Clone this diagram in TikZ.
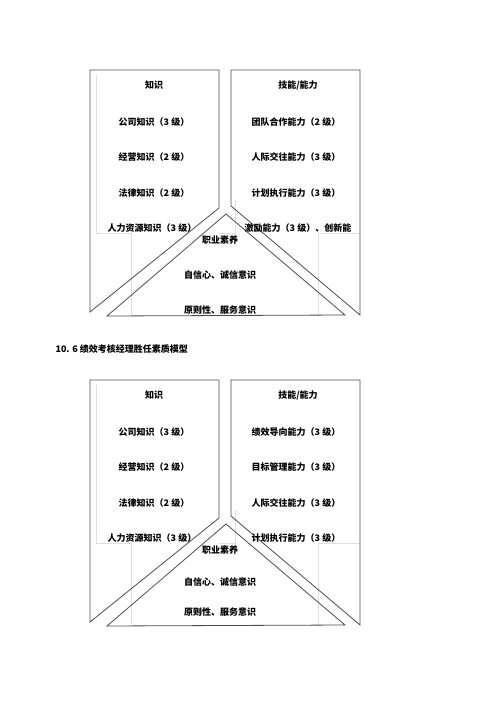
\documentclass[tikz,border=0pt]{standalone}
\usepackage{fontspec}
\setmainfont{Noto Sans CJK SC}

\begin{document}
\begin{tikzpicture}[x=1pt,y=-1pt,font=\fontsize{9}{11}\selectfont\bfseries,
    frame/.style={draw=black!70,line width=0.8pt,line join=miter},
    ghost/.style={draw=gray!25,line width=0.5pt}]
        \useasboundingbox(0,0)rectangle(500,707);
        % two competence models, same frame
        \foreach \dy in {0,310}{
            \draw[ghost](96,75+\dy)--(96,233+\dy)--(131,233+\dy)--(131,316+\dy);
            \draw[ghost](235,200+\dy)--(235,233+\dy)--(219,233+\dy);
            \draw[ghost](318,316+\dy)--(318,233+\dy)--(359,233+\dy);
            \draw[frame](90,70+\dy)--(219,70+\dy)--(219,208+\dy)--(90,312+\dy)--cycle;
            \draw[frame](231,70+\dy)--(360,70+\dy)--(360,315+\dy)--(231,206+\dy)--cycle;
            \draw[frame](226,214+\dy)--(345,315+\dy)--(107,316+\dy)--cycle;
        }

        \node(ka)at(154,85){知识};
        \node(kb)at(154,122){公司知识（3 级）};
        \node(kc)at(154,157){经营知识（2 级）};
        \node(kd)at(154,193){法律知识（2 级）};
        \node(ke)at(152,228){人力资源知识（3 级）};
        \node(sa)at(298,85){技能/能力};
        \node(sb)at(296,122){团队合作能力（2 级）};
        \node(sc)at(296,157){人际交往能力（3 级）};
        \node(sd)at(296,193){计划执行能力（3 级）};
        \node(se)at(298,228){激励能力（3 级）、创新能};
        \node(pa)at(220,240){职业素养};
        \node(pb)at(220,275){自信心、诚信意识};
        \node(pc)at(220,310){原则性、服务意识};

        \node[anchor=west](head)at(52,349){10. 6 绩效考核经理胜任素质模型};

        \node(ka2)at(154,395){知识};
        \node(kb2)at(154,432){公司知识（3 级）};
        \node(kc2)at(154,467){经营知识（2 级）};
        \node(kd2)at(154,503){法律知识（2 级）};
        \node(ke2)at(152,538){人力资源知识（3 级）};
        \node(sa2)at(298,395){技能/能力};
        \node(sb2)at(296,432){绩效导向能力（3 级）};
        \node(sc2)at(296,467){目标管理能力（3 级）};
        \node(sd2)at(296,503){人际交往能力（3 级）};
        \node(se2)at(296,538){计划执行能力（3 级）};
        \node(pa2)at(220,550){职业素养};
        \node(pb2)at(220,582){自信心、诚信意识};
        \node(pc2)at(220,612){原则性、服务意识};
    \end{tikzpicture}
\end{document}
